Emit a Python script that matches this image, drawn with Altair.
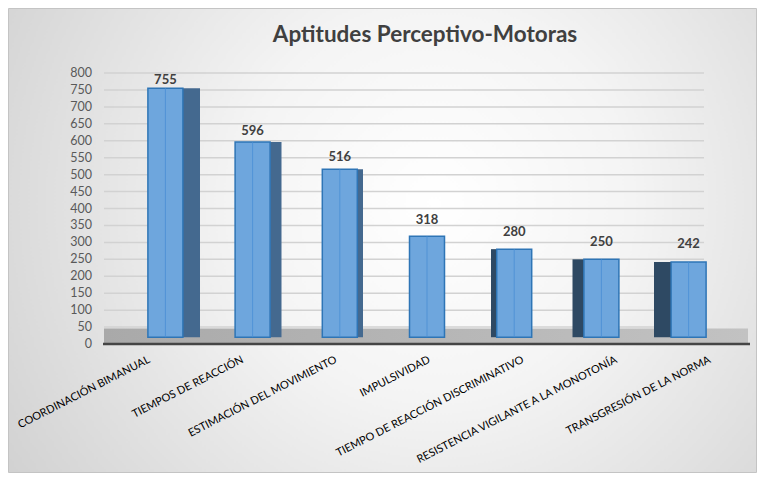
import altair as alt
import pandas as pd

categories = [
    "COORDINACIÓN BIMANUAL",
    "TIEMPOS DE REACCIÓN",
    "ESTIMACIÓN DEL MOVIMIENTO",
    "IMPULSIVIDAD",
    "TIEMPO DE REACCIÓN DISCRIMINATIVO",
    "RESISTENCIA VIGILANTE A LA MONOTONÍA",
    "TRANSGRESIÓN DE LA NORMA",
]
values = [755, 596, 516, 318, 280, 250, 242]
y_ticks = list(range(0, 801, 50))
title_text = "Aptitudes Perceptivo-Motoras"

FONT = "Lato"
W, H = 654, 271
PAD_L, PAD_T, PAD_R, PAD_B = 92, 65, 3, 129
BAR = 35

df = pd.DataFrame({"cat": categories, "val": values})
tick_df = pd.DataFrame({"t": y_ticks})
grid_df = pd.DataFrame({"t": y_ticks[1:]})
one = pd.DataFrame({"a": [0]})

xscale = alt.Scale(domain=categories, paddingInner=0, paddingOuter=0.25)
yscale = alt.Scale(domain=[0, 800], nice=False)

bg = alt.Chart(one).mark_rect(
    fill=alt.RadialGradient(
        gradient="radial",
        stops=[alt.GradientStop(color="#ffffff", offset=0),
               alt.GradientStop(color="#f4f4f4", offset=0.35),
               alt.GradientStop(color="#cbcbcb", offset=1)],
        x1=0.57, y1=0.45, x2=0.57, y2=0.45, r1=0, r2=0.75),
    stroke="#c4c4c4", strokeWidth=1,
).encode(
    x=alt.value(-PAD_L + 0.5), x2=alt.value(W + PAD_R - 0.5),
    y=alt.value(-PAD_T + 0.5), y2=alt.value(H + PAD_B - 0.5),
)

grid = alt.Chart(grid_df).mark_rule(color="#d2d2d2", strokeWidth=1.5).encode(
    y=alt.Y("t:Q", scale=yscale, axis=None),
    x=alt.value(4), x2=alt.value(W - 50),
)

floor = alt.Chart(one).mark_rect(
    fill=alt.LinearGradient(
        gradient="linear",
        stops=[alt.GradientStop(color="#a9a9a9", offset=0),
               alt.GradientStop(color="#c2c2c2", offset=1)],
        x1=0, y1=0, x2=1, y2=0),
).encode(
    y=alt.datum(0, scale=yscale, axis=None), y2=alt.datum(46),
    x=alt.value(4), x2=alt.value(W - 6),
)

front_edge = alt.Chart(one).mark_rule(color="#454545", strokeWidth=2.5).encode(
    y=alt.datum(0, scale=yscale, axis=None),
    x=alt.value(3), x2=alt.value(W - 4),
)

sides = []
for i, c in enumerate(categories):
    s = (3 - i) * 5.7
    if abs(s) < 0.5:
        continue
    sign = 1 if s > 0 else -1
    col = "#44698f" if s > 0 else "#2e4963"
    sides.append(
        alt.Chart(df).transform_filter(alt.datum.cat == c).mark_bar(
            size=abs(s), xOffset=sign * (BAR / 2 + abs(s) / 2), color=col,
        ).encode(
            x=alt.X("cat:N", scale=xscale, axis=None),
            y=alt.Y("val:Q", scale=yscale, axis=None),
            y2=alt.datum(20),
        )
    )

bars = alt.Chart(df).mark_bar(
    size=BAR, color="#6ea6dd", stroke="#2e75b6", strokeWidth=1.5,
).encode(
    x=alt.X("cat:N", scale=xscale, axis=None),
    y=alt.Y("val:Q", scale=yscale, axis=None),
    y2=alt.datum(20),
)

inner = alt.Chart(df).mark_rule(color="#4a8fd4", strokeWidth=1, opacity=0.8).encode(
    x=alt.X("cat:N", scale=xscale, axis=None),
    y=alt.Y("val:Q", scale=yscale, axis=None),
    y2=alt.datum(20),
)

vlabels = alt.Chart(df).transform_calculate(
    ly="datum.val + 12 + (760 - datum.val) * 0.056"
).mark_text(
    baseline="alphabetic", fontSize=13, fontWeight="bold",
    color="#404040", font=FONT,
).encode(
    x=alt.X("cat:N", scale=xscale, axis=None),
    y=alt.Y("ly:Q", scale=yscale, axis=None),
    text=alt.Text("val:Q"),
)

main = alt.layer(bg, grid, floor, front_edge, *sides, bars, inner, vlabels)

xlabels = alt.Chart(df).mark_text(
    angle=333, align="right", baseline="top", fontSize=11,
    color="#000000", font=FONT,
).encode(
    x=alt.X("cat:N", scale=alt.Scale(domain=categories, paddingInner=0,
                                     paddingOuter=0.08), axis=None),
    y=alt.value(H + 10),
    text=alt.Text("cat:N"),
)

ylabels = alt.Chart(tick_df).mark_text(
    align="right", baseline="middle", dx=-8, fontSize=12.5,
    color="#595959", font=FONT,
).encode(
    y=alt.Y("t:Q", scale=yscale, axis=None),
    x=alt.value(0),
    text=alt.Text("t:Q"),
)

title = alt.Chart(one).mark_text(
    align="center", baseline="alphabetic", fontSize=22.5, fontWeight="bold",
    color="#404040", font=FONT,
).encode(
    x=alt.value(W / 2 - 2), y=alt.value(-31),
    text=alt.value(title_text),
)

chart = alt.layer(main, xlabels, ylabels, title).resolve_scale(
    x="independent"
).properties(
    width=W, height=H,
    autosize=alt.AutoSizeParams(type="none"),
    padding={"left": PAD_L, "top": PAD_T, "right": PAD_R, "bottom": PAD_B},
).configure_view(stroke=None)

chart.save("out.html", embed_options={"renderer": "svg", "actions": False})
